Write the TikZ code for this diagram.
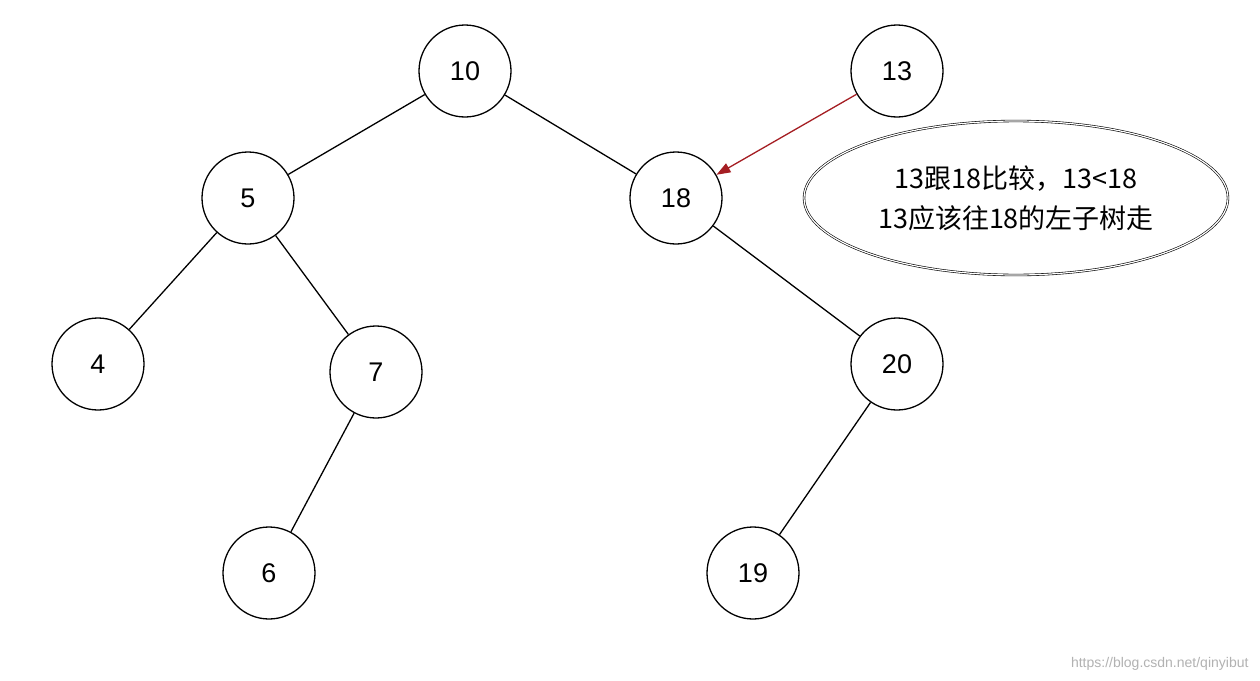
\documentclass[tikz,border=0pt]{standalone}
\usepackage{fontspec}
\setmainfont{Liberation Sans}
\newfontfamily\cjk{Noto Sans CJK SC}
\usetikzlibrary{shapes.geometric,arrows.meta}
\begin{document}
\begin{tikzpicture}[x=1pt,y=-1pt,
  tn/.style={circle,draw,line width=1.3pt,minimum size=92pt,inner sep=0pt,font=\fontsize{27}{30}\selectfont},
  edge/.style={line width=1.3pt}]
\useasboundingbox[fill=white] (0,0) rectangle (1260,680);
\node[tn] (n10) at (465,71) {10};
\node[tn] (n13) at (897,71) {13};
\node[tn] (n5) at (248,198) {5};
\node[tn] (n18) at (676,198) {18};
\node[tn] (n4) at (98,364) {4};
\node[tn] (n7) at (376,372) {7};
\node[tn] (n20) at (897,364) {20};
\node[tn] (n6) at (269,573) {6};
\node[tn] (n19) at (753,573) {19};
\draw[edge] (n10)--(n5); \draw[edge] (n10)--(n18);
\draw[edge] (n5)--(n4); \draw[edge] (n5)--(n7);
\draw[edge] (n7)--(n6); \draw[edge] (n18)--(n20);
\draw[edge] (n20)--(n19);
\draw[edge,color={rgb,255:red,165;green,30;blue,35},-{Triangle[length=14pt,width=10pt]}] (n13)--(n18);
\node[ellipse,draw,double,double distance=1.2pt,line width=0.6pt,minimum width=424pt,minimum height=154pt,align=center,font=\cjk\fontsize{27}{40}\selectfont] (note) at (1016,198) {13跟18比较，13<18\\13应该往18的左子树走};
\node[text=gray!60,font=\fontsize{14}{16}\selectfont,anchor=east] (wm) at (1252,664) {https://blog.csdn.net/qinyibut};
\end{tikzpicture}
\end{document}
